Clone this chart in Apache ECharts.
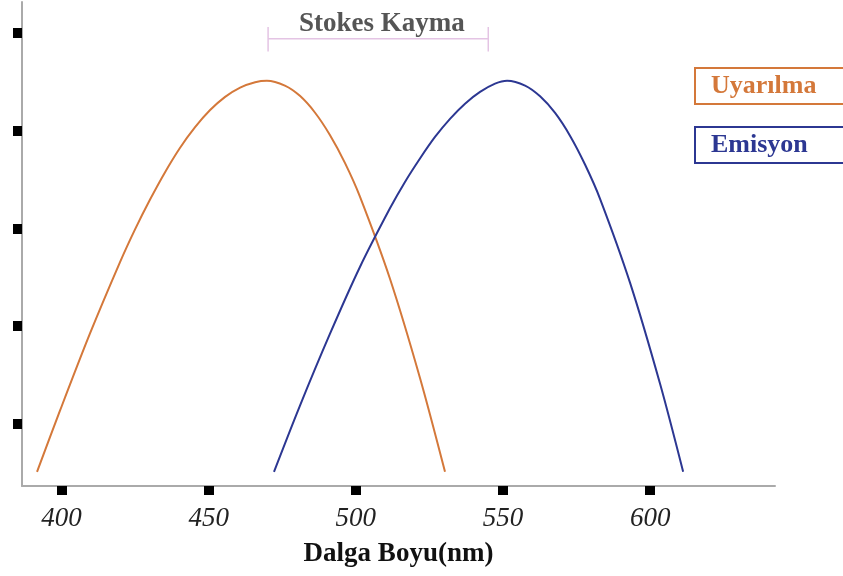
<!DOCTYPE html>
<html>
<head>
<meta charset="utf-8">
<script src="https://cdn.jsdelivr.net/npm/echarts@6/dist/echarts.min.js"></script>
<style>html,body{margin:0;padding:0;background:#fff;}#c{width:843px;height:576px;}</style>
</head>
<body>
<div id="c"></div>
<script>
// Wavelength (nm) and relative intensity
const excitationX = [391.7, 399.5, 409.7, 419.9, 425.0, 430.1, 435.2, 440.3, 445.4, 450.5, 455.6, 460.7, 465.8, 469.8, 475.9, 481.0, 486.1, 491.2, 496.3, 501.4, 511.6, 521.8, 530.3];
const excitationY = [2.9, 15.4, 31.2, 45.8, 52.5, 58.6, 64.2, 69.2, 73.4, 76.9, 79.6, 81.5, 82.6, 82.9, 81.9, 79.8, 76.4, 71.8, 66.1, 59.2, 42.4, 22.1, 2.9];
const emissionX = [472.2, 481.0, 491.2, 501.4, 511.6, 516.7, 521.8, 526.9, 532.0, 537.1, 542.2, 547.3, 551.4, 557.5, 562.6, 567.7, 572.8, 577.9, 583.0, 593.2, 603.4, 611.2];
const emissionY = [2.9, 16.4, 31.1, 44.8, 56.8, 62.2, 67.0, 71.4, 75.1, 78.2, 80.6, 82.3, 82.9, 81.9, 79.7, 76.3, 71.6, 65.7, 58.7, 41.5, 20.8, 2.9];
const xTicks = [400, 450, 500, 550, 600];
const yTicks = [12.7, 32.7, 52.7, 72.7, 92.7];
const shiftStart = 470.2, shiftEnd = 545.0, shiftLevel = 91.5, capTop = 93.9, capBottom = 88.9;
const names = ['Uyarılma', 'Emisyon'];

const ORANGE = '#d4783a', BLUE = '#2c3792';
const zip = (xs, ys) => xs.map((x, i) => [x, ys[i]]);

const chart = echarts.init(document.getElementById('c'));
const legendBase = {
  orient: 'vertical', left: 695, itemWidth: 0, itemHeight: 0, icon: 'rect',
  selectedMode: false, borderWidth: 2, padding: [5, 50, 5, 11],
  textStyle: {fontFamily: 'Liberation Serif', fontWeight: 'bold', fontSize: 26, lineHeight: 26}
};
chart.setOption({
  animation: false,
  title: {
    text: 'Stokes Kayma', left: 294, top: 6,
    textStyle: {fontFamily: 'Liberation Serif', fontWeight: 'bold', fontSize: 27, color: '#555'}
  },
  legend: [
    Object.assign({}, legendBase, {top: 68, data: [names[0]], borderColor: ORANGE,
      textStyle: Object.assign({}, legendBase.textStyle, {color: ORANGE})}),
    Object.assign({}, legendBase, {top: 127, data: [names[1]], borderColor: BLUE,
      textStyle: Object.assign({}, legendBase.textStyle, {color: BLUE})})
  ],
  grid: {left: 22, right: 68, top: 2, bottom: 90, containLabel: false},
  xAxis: {
    type: 'value', min: 386.6, max: 642.4,
    name: 'Dalga Boyu(nm)', nameLocation: 'middle', nameGap: 55,
    nameTextStyle: {fontFamily: 'Liberation Serif', fontWeight: 'bold', fontSize: 27, color: '#111'},
    axisLine: {show: true, lineStyle: {color: '#aaa', width: 2}},
    axisTick: {show: true, customValues: xTicks, length: 9, lineStyle: {color: '#000', width: 10}},
    axisLabel: {customValues: xTicks, margin: 19, fontFamily: 'Liberation Serif', fontStyle: 'italic', fontSize: 27, color: '#222'},
    splitLine: {show: false}
  },
  yAxis: {
    type: 'value', min: 0, max: 99,
    axisLine: {show: true, lineStyle: {color: '#aaa', width: 2}},
    axisTick: {show: true, customValues: yTicks, length: 9, lineStyle: {color: '#000', width: 10}},
    axisLabel: {show: false},
    splitLine: {show: false}
  },
  series: [
    {name: names[0], type: 'line', data: zip(excitationX, excitationY), smooth: 0.3, symbol: 'none',
      lineStyle: {color: ORANGE, width: 2}, itemStyle: {color: ORANGE}},
    {name: names[1], type: 'line', data: zip(emissionX, emissionY), smooth: 0.3, symbol: 'none',
      lineStyle: {color: BLUE, width: 2}, itemStyle: {color: BLUE}},
    {type: 'line', silent: true, symbol: 'none', lineStyle: {color: '#e4c4e4', width: 1.5},
      data: [[shiftStart, capTop], [shiftStart, capBottom], [shiftStart, shiftLevel], [shiftEnd, shiftLevel], [shiftEnd, capTop], [shiftEnd, capBottom]]}
  ]
});
</script>
</body>
</html>
